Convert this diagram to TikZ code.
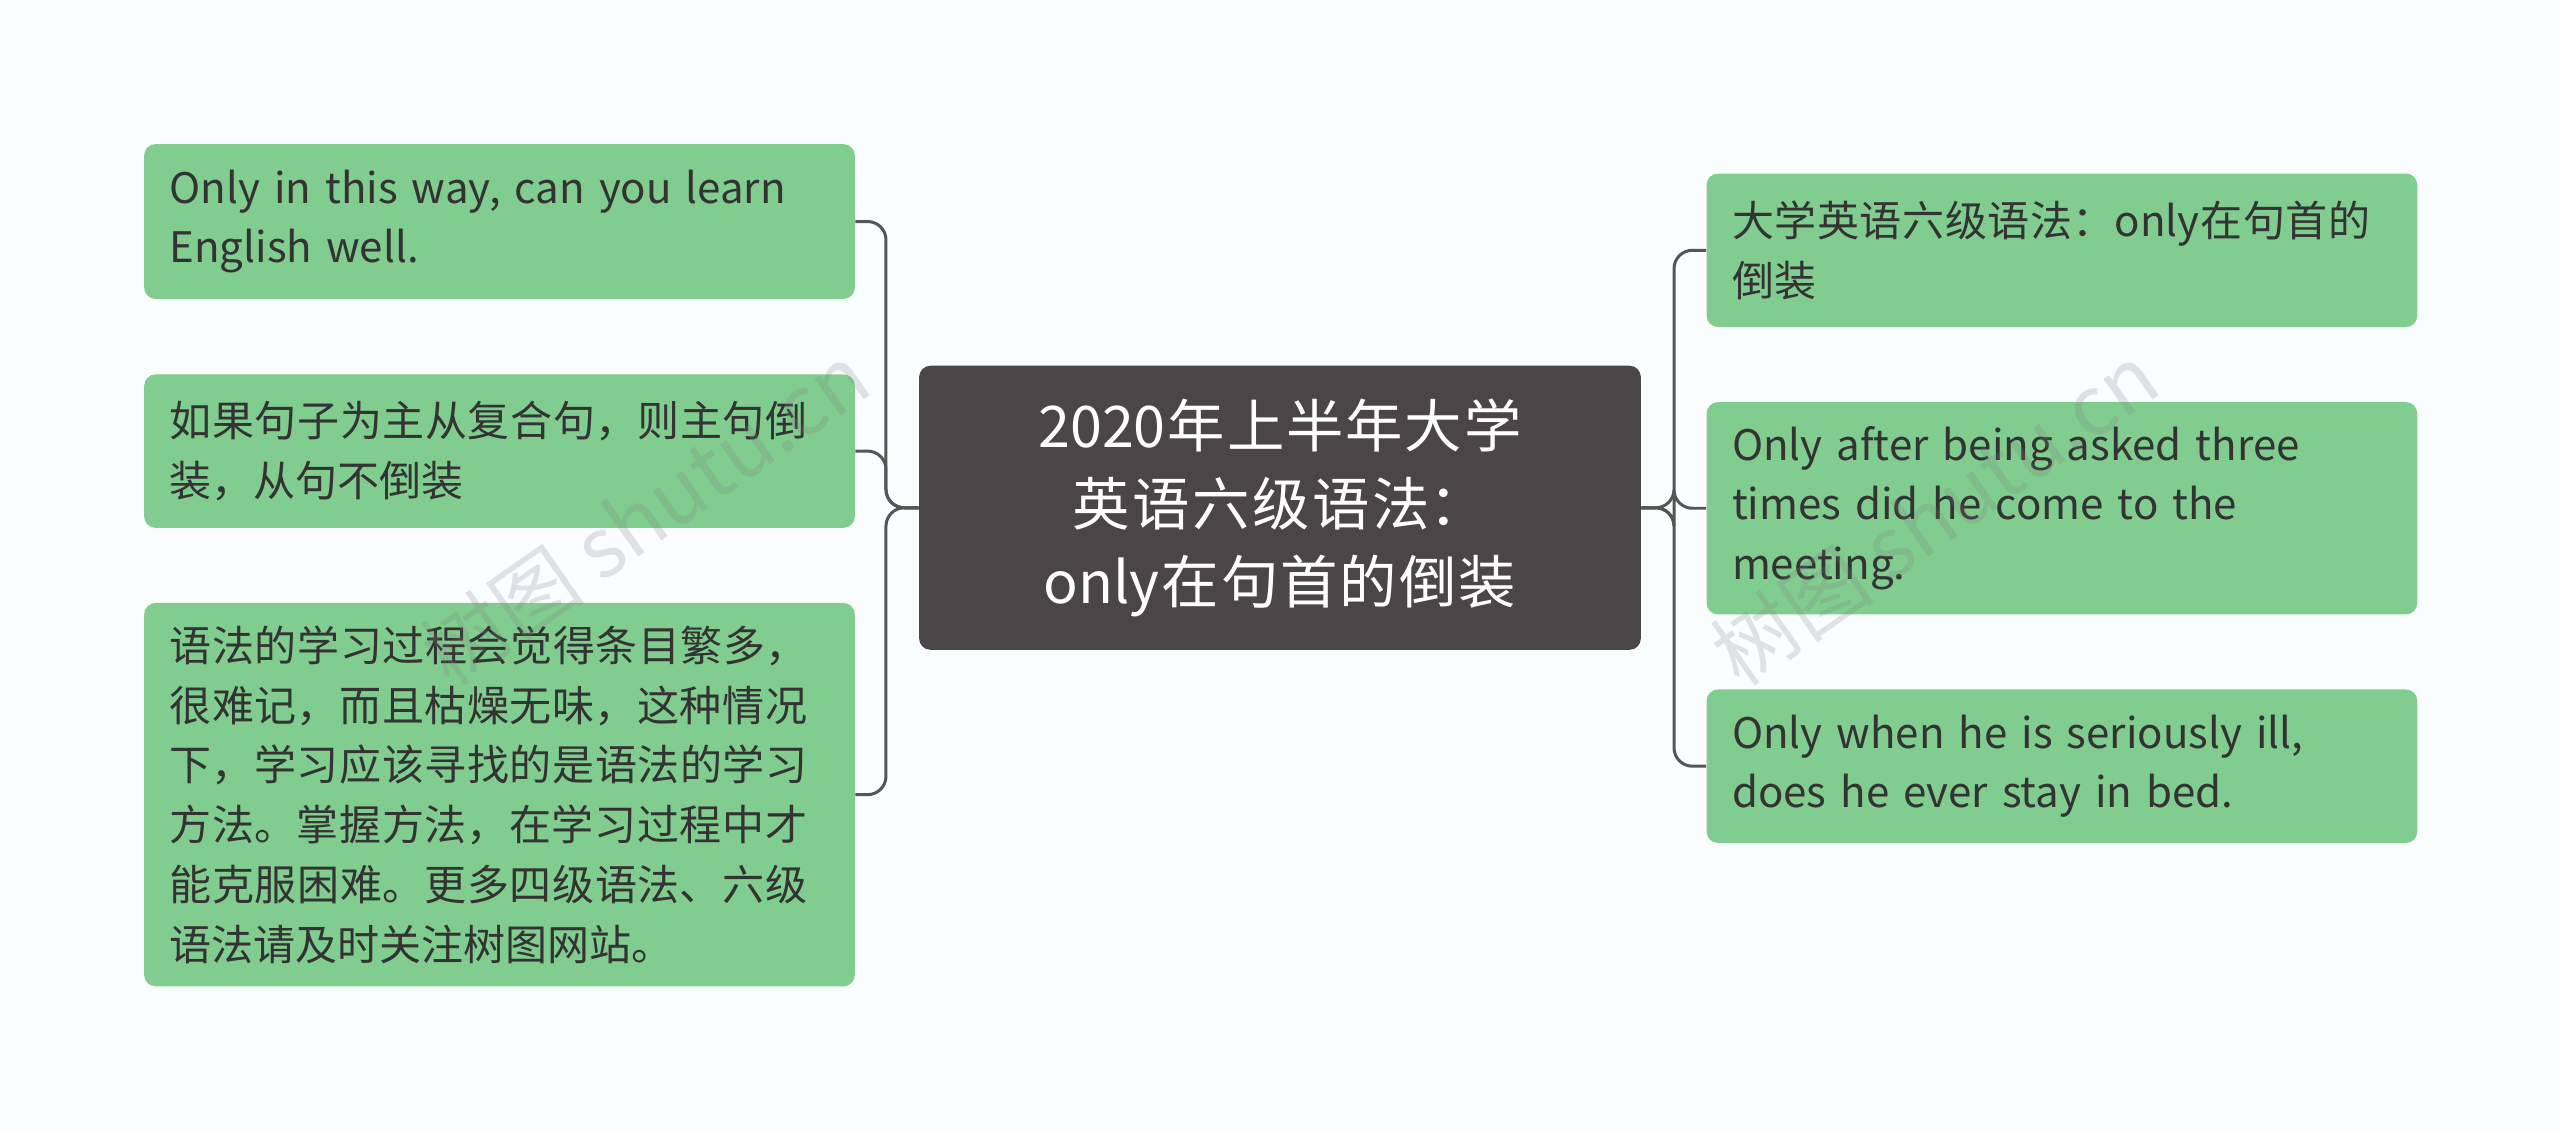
\documentclass[tikz,border=0pt]{standalone}
\usepackage{fontspec}
\setmainfont{Noto Sans CJK SC}
\XeTeXlinebreaklocale "zh"
\XeTeXlinebreakskip=0pt plus 1pt
\hyphenpenalty=10000
\usepackage{tikz}
\usetikzlibrary{positioning}
\definecolor{leafgreen}{HTML}{80CD8F}
\definecolor{rootgray}{HTML}{4A4546}
\definecolor{linegray}{HTML}{555555}
\definecolor{bgpaper}{HTML}{FAFDFE}
\tikzset{leaf/.style={rounded corners=5, fill=leafgreen, text=black!80, align=left, anchor=north west, inner xsep=0.3cm, inner ysep=0.3cm, text width=10.1cm, minimum width=10.88cm, font=\fontsize{18.3}{26}\selectfont}}
\tikzset{root/.style={rounded corners=5, fill=rootgray, text=white, align=center, inner xsep=0pt, minimum width=11.05cm, minimum height=4.35cm, text width=10.3cm, font=\fontsize{25}{34}\selectfont}}
\tikzset{conn/.style={draw=linegray, line width=1.3pt, rounded corners=8}}
\tikzset{wmark/.style={text=gray, text opacity=0.22, font=\fontsize{36}{36}\selectfont, rotate=35}}
\begin{document}
\hyphenpenalty=10000
\begin{tikzpicture}[x=0.025cm,y=-0.025cm]
	\fill[bgpaper] (0,0) rectangle (1568,693);
	\node[root] (c) at (784,311) {2020年上半年大学英语六级语法：only在句首的倒装};
	% left branch
	\node[leaf, minimum height=2.37cm] (l1) at (88,88) {Only in this way, can you learn English well.};
	\node[leaf, minimum height=2.35cm] (l2) at (88,229) {如果句子为主从复合句，则主句倒装，从句不倒装};
	\node[leaf, minimum height=5.87cm] (l3) at (88,369) {语法的学习过程会觉得条目繁多，很难记，而且枯燥无味，这种情况下，学习应该寻找的是语法的学习方法。掌握方法，在学习过程中才能克服困难。更多四级语法、六级语法请及时关注树图网站。};
	% right branch
	\node[leaf, minimum height=2.35cm] (r1) at (1045,106) {大学英语六级语法：only在句首的倒装};
	\node[leaf, minimum height=3.25cm] (r2) at (1045,246) {Only after being asked three times did he come to the meeting.};
	\node[leaf, minimum height=2.35cm] (r3) at (1045,422) {Only when he is seriously ill, does he ever stay in bed.};
	\foreach \n in {l1,l2,l3}
		\draw[conn] (c.west) -- ++(-20,0) |- (\n.east);
	\foreach \n in {r1,r2,r3}
		\draw[conn] (c.east) -- ++(20,0) |- (\n.west);
	% watermark
	\node[wmark] (w1) at (395,315) {树图 shutu.cn};
	\node[wmark] (w2) at (1185,315) {树图 shutu.cn};
\end{tikzpicture}
\end{document}
